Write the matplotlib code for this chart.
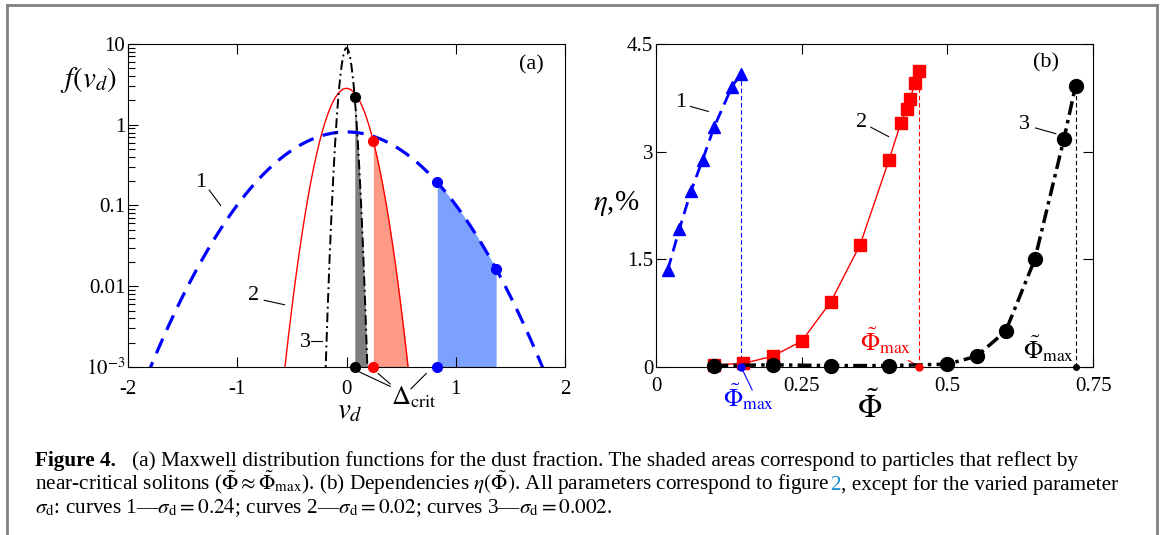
import numpy as np
import matplotlib
matplotlib.use("Agg")
import matplotlib.pyplot as plt
from matplotlib.lines import Line2D

plt.rcParams['font.family'] = ['Liberation Serif', 'DejaVu Serif']
plt.rcParams['mathtext.fontset'] = 'stix'

# ---- data, panel (a): Maxwell distributions, sigma_d from the caption ----
sigma_d = [0.24, 0.02, 0.002]           # curves 1, 2, 3
shade_from = [0.83, 0.245, 0.075]       # left edge of shaded area (near-critical)
shade_to = [1.37, None, None]           # None -> down to bottom of the axis
curve_colors = ['#0000ff', '#ff0000', '#000000']
shade_colors = ['#7ba1fd', '#fe9a85', '#7f7f7f']
xticks_a = [-2, -1, 0, 1, 2]
yticks_a = [1e-3, 1e-2, 1e-1, 1, 10]
yticklabels_a = [r'$10^{-3}$', '0.01', '0.1', '1', '10']

# ---- data, panel (b): eta(Phi) ----
phi1 = [0.02, 0.04, 0.06, 0.08, 0.10, 0.13, 0.145]
eta1 = [1.35, 1.92, 2.45, 2.89, 3.35, 3.90, 4.08]
phi2 = [0.10, 0.15, 0.20, 0.25, 0.30, 0.35, 0.40, 0.42, 0.43, 0.436, 0.444, 0.452]
eta2 = [0.03, 0.05, 0.15, 0.36, 0.91, 1.70, 2.89, 3.40, 3.59, 3.73, 3.96, 4.13]
phi3 = [0.10, 0.20, 0.30, 0.40, 0.50, 0.55, 0.60, 0.65, 0.70, 0.72]
eta3 = [0.02, 0.03, 0.02, 0.02, 0.04, 0.15, 0.50, 1.50, 3.18, 3.92]
phi_max = [0.145, 0.451, 0.72]
xticks_b = [0, 0.25, 0.5, 0.75]
xticklabels_b = ['0', '0.25', '0.5', '0.75']
yticks_b = [0, 1.5, 3, 4.5]
yticklabels_b = ['0', '1.5', '3', '4.5']


def maxwell(v, s):
    return np.exp(-v ** 2 / (2 * s)) / np.sqrt(2 * np.pi * s)


fig = plt.figure(figsize=(11.63, 5.35), dpi=100)
axa = fig.add_axes([0.1101, 0.3140, 0.3757, 0.6038])
axb = fig.add_axes([0.5641, 0.3140, 0.3758, 0.6038])

# ---------------- panel (a) ----------------
v = np.linspace(-2.2, 2.2, 4001)
styles = [dict(lw=2.3, ls=(0, (5.0, 3.0))),
          dict(lw=1.0, ls='-'),
          dict(lw=1.4, ls=(0, (5, 2, 1, 2)))]
for s, c, sc, a, b, st in zip(sigma_d, curve_colors, shade_colors,
                              shade_from, shade_to, styles):
    f = maxwell(v, s)
    if b is None:
        b = np.sqrt(-2 * s * np.log(1e-3 * np.sqrt(2 * np.pi * s)))
    m = (v >= a) & (v <= b)
    axa.fill_between(v[m], 1e-3, f[m], color=sc, lw=0, zorder=1)
    axa.plot(v, f, color=c, zorder=3, **st)
    axa.plot([a], [maxwell(a, s)], 'o', color=c, ms=7, zorder=4)
    axa.plot([a], [1e-3], 'o', color=c, ms=7, zorder=4, clip_on=False)
    if shade_to[sigma_d.index(s)] is not None:
        axa.plot([b], [maxwell(b, s)], 'o', color=c, ms=7, zorder=4)

axa.set_yscale('log')
axa.set_xlim(-2, 2)
axa.set_ylim(1e-3, 10)
axa.set_xticks(xticks_a)
axa.set_xticklabels([str(t) for t in xticks_a])
axa.set_yticks(yticks_a)
axa.set_yticklabels(yticklabels_a)
axa.tick_params(which='major', direction='in', length=7, width=0.8, labelsize=15,
                top=True, right=False)
axa.tick_params(which='minor', direction='in', length=5, width=0.8,
                left=True, right=False, top=False, bottom=False)
axa.tick_params(axis='x', pad=9)
axa.tick_params(axis='y', pad=2)

axa.text(-1.338, 0.195, '1', fontsize=16, ha='center', va='center')
axa.plot([-1.257, -1.152], [0.155, 0.1], color='k', lw=0.8)
axa.text(-0.848, 0.0077, '2', fontsize=16, ha='center', va='center')
axa.plot([-0.753, -0.567], [0.0067, 0.0059], color='k', lw=0.8)
axa.text(-0.375, 0.00204, '3', fontsize=16, ha='center', va='center')
axa.plot([-0.322, -0.224], [0.0021, 0.0021], color='k', lw=0.8)
axa.text(1.69, 5.5, '(a)', fontsize=16, ha='center', va='center')
axa.text(0.62, 4.2e-4, r'$\Delta_{\rm crit}$', fontsize=19, ha='center', va='center')
for x0, y0, x1, y1 in [(0.116, -3.06, 0.40, -3.24), (0.29, -3.08, 0.40, -3.21),
                       (0.73, -3.08, 0.59, -3.27)]:
    axa.plot([x0, x1], [10 ** y0, 10 ** y1], color='k', lw=0.8, clip_on=False)

fig.text(88 / 1163, 1 - 80 / 535, r'$f(v_d)$', fontsize=21, ha='center', va='center')
fig.text(350 / 1163, 1 - 411 / 535, r'$v_d$', fontsize=21, ha='center', va='center')

# ---------------- panel (b) ----------------
axb.plot(phi1, eta1, color='#0000ff', lw=2.0, ls=(0, (4.5, 2.5)), marker='^', ms=9,
         clip_on=False, zorder=3)
axb.plot(phi2, eta2, color='#ff0000', lw=1.0, ls='-', marker='s', ms=8,
         clip_on=False, zorder=3)
axb.plot(phi3, eta3, color='#000000', lw=2.5, ls=(0, (4, 1.5, 1, 1.5)), marker='o',
         ms=10, clip_on=False, zorder=3)
tops = [eta1[-1], eta2[-1], eta3[-1]]
for p, t, c in zip(phi_max, tops, curve_colors):
    axb.plot([p, p], [0, t], color=c, lw=0.8, ls=(0, (4, 2.5)), zorder=2)
    axb.plot([p], [0], 'o', color=c, ms=5 if c != '#000000' else 4, clip_on=False, zorder=4)

axb.set_xlim(0, 0.75)
axb.set_ylim(0, 4.5)
axb.set_xticks(xticks_b)
axb.set_xticklabels(xticklabels_b)
axb.set_yticks(yticks_b)
axb.set_yticklabels(yticklabels_b)
axb.tick_params(direction='in', length=7, width=0.8, labelsize=15,
                top=True, right=True)
axb.tick_params(axis='x', pad=7)
axb.tick_params(axis='y', pad=2)

axb.text(0.0417, 3.68, '1', fontsize=16, ha='center', va='center')
axb.plot([0.059, 0.0897], [3.63, 3.56], color='k', lw=0.8)
axb.text(0.3526, 3.40, '2', fontsize=16, ha='center', va='center')
axb.plot([0.3686, 0.399], [3.34, 3.21], color='k', lw=0.8)
axb.text(0.633, 3.38, '3', fontsize=16, ha='center', va='center')
axb.plot([0.651, 0.686], [3.33, 3.25], color='k', lw=0.8)
axb.text(0.67, 4.24, '(b)', fontsize=16, ha='center', va='center')

axb.text(0.158, -0.42, r'$\tilde{\Phi}_{\rm max}$', fontsize=18, color='#0000ff',
         ha='center', va='center')
axb.plot([0.146, 0.165], [0, -0.32], color='#0000ff', lw=0.8, clip_on=False)
axb.text(0.394, 0.36, r'$\tilde{\Phi}_{\rm max}$', fontsize=18, color='#ff0000',
         ha='center', va='center')
axb.plot([0.433, 0.449], [0.09, 0.02], color='#ff0000', lw=0.8)
axb.text(0.673, 0.25, r'$\tilde{\Phi}_{\rm max}$', fontsize=18, color='k',
         ha='center', va='center')

fig.text(616 / 1163, 1 - 204 / 535, r'$\eta$,%', fontsize=21, ha='center', va='center')
fig.text(870 / 1163, 1 - 408 / 535, r'$\tilde{\Phi}$', fontsize=23, ha='center', va='center')

# ---------------- caption ----------------
cap_fs = 15.3
x0 = 35 / 1163
lines_y = [1 - 466 / 535, 1 - 490 / 535, 1 - 513 / 535]
fig.canvas.draw()
rend = fig.canvas.get_renderer()
inv = fig.transFigure.inverted()


def put(pieces, y):
    x = x0
    for txt, kw in pieces:
        t = fig.text(x, y, txt, fontsize=cap_fs, va='baseline', ha='left', **kw)
        bb = t.get_window_extent(rend)
        x = inv.transform((bb.x1, bb.y1))[0]


put([('Figure 4.', dict(fontweight='bold')),
     ('   (a) Maxwell distribution functions for the dust fraction. The shaded areas '
      'correspond to particles that reflect by', {})], lines_y[0])
put([(r'near-critical solitons ($\tilde{\Phi} \approx \tilde{\Phi}_{\rm max}$). (b) '
      r'Dependencies $\eta(\tilde{\Phi})$. All parameters correspond to figure ', {}),
     ('2', dict(color='#1a8fd6')),
     (', except for the varied parameter', {})], lines_y[1])
put([(r'$\sigma_{\rm d}$: curves 1—$\sigma_{\rm d}=0.24$; curves 2—$\sigma_{\rm d}=0.02$; '
      r'curves 3—$\sigma_{\rm d}=0.002$.', {})], lines_y[2])

# gray frame around the figure (open at the bottom)
fc = '#808080'
fig.add_artist(Line2D([7 / 1163, 7 / 1163], [0, 1 - 5 / 535], color=fc, lw=2,
                      transform=fig.transFigure))
fig.add_artist(Line2D([7 / 1163, 1157 / 1163], [1 - 5 / 535, 1 - 5 / 535], color=fc,
                      lw=2, transform=fig.transFigure))
fig.add_artist(Line2D([1157 / 1163, 1157 / 1163], [0, 1 - 5 / 535], color=fc, lw=2,
                      transform=fig.transFigure))

fig.savefig('out.png', dpi=100)
